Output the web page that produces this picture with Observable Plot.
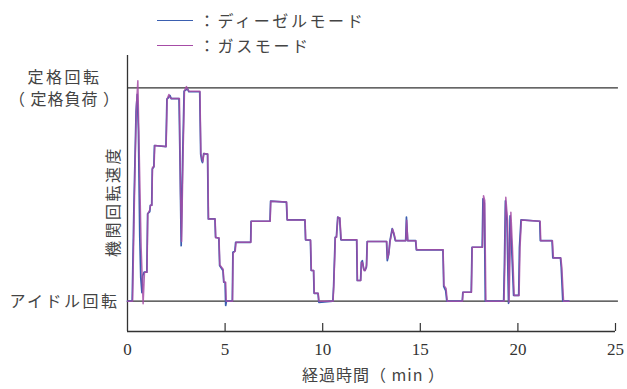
<!DOCTYPE html>
<html><head><meta charset="utf-8">
<script src="https://cdn.jsdelivr.net/npm/d3@7"></script>
<script src="https://cdn.jsdelivr.net/npm/@observablehq/plot@0.6"></script>
<style>
body{margin:0;background:#fff;}
#wrap{position:relative;width:627px;height:389px;}
.leg{position:absolute;left:157px;height:22px;font:16px "Noto Sans CJK JP";color:#444;letter-spacing:2.6px;display:flex;align-items:center;white-space:nowrap;}
.leg .sw{display:inline-block;width:36px;height:0;border-top:1.5px solid;margin-right:6px;}
</style></head><body><div id="wrap"></div>
<script>
// ---- data (engine speed: 0 = idle, 100 = rated) ----
const dieselTime = [0,0.24,0.27,0.33,0.44,0.50,0.56,0.63,0.68,0.74,0.78,0.85,0.99,1.03,1.14,1.17,1.24,1.27,1.35,1.38,1.97,2.02,2.10,2.17,2.24,2.64,2.70,2.75,2.82,2.90,3.02,3.08,3.14,3.70,3.75,3.80,3.84,3.90,4.10,4.14,4.48,4.51,4.68,4.72,4.89,4.93,5.00,5.03,5.07,5.37,5.40,5.50,5.54,6.31,6.33,7.30,7.33,8.14,8.18,9.09,9.12,9.37,9.41,9.53,9.56,9.76,9.80,10.52,10.56,10.64,10.70,10.77,10.87,10.93,11.74,11.77,11.94,11.98,12.03,12.10,12.16,12.24,12.28,13.27,13.31,13.38,13.44,13.56,13.64,13.72,14.25,14.29,14.35,14.76,14.80,16.16,16.20,16.30,16.36,17.15,17.18,17.61,17.65,18.17,18.21,18.28,18.33,19.27,19.31,19.36,19.44,19.52,19.60,19.68,19.78,20.04,20.08,20.16,21.12,21.15,21.75,21.79,22.18,22.22,22.30,22.60];
const dieselSpeed = [0,0,15,45,89,97,80,30,11,4,12,13.6,13.6,41,42,45,45,62,63,73,72.5,94.8,95.5,96.5,95,95,60,26,65,98.5,99.2,99.5,98.2,98.2,69,66,65,69.2,69,38.6,38.6,30,29.5,16.7,14.4,8.9,8.9,-2,0,0,23,23.5,27.6,27.6,37.5,37.5,46.9,46.5,38.1,38.1,28.8,28.6,14.4,14.4,3.7,3.7,-0.5,0,7.4,30,30,39.4,39,28.8,28.8,9.7,9.7,18.3,19,15,14.4,16,28,28,19,22,28,34,31.6,28.4,28.4,39.4,28.4,28.4,24.1,24.1,7,5,0,0,4.2,4.2,25.3,25.3,48,46,0,0,17.5,47,37.8,-1,40,25.3,2.7,2.7,25.3,38.1,37.5,28.4,28.4,20.3,20.3,15.9,0,0];
const gasTime = [0,0.26,0.30,0.38,0.46,0.53,0.60,0.70,0.80,0.83,0.87,1.00,1.04,1.15,1.18,1.25,1.28,1.36,1.40,1.98,2.03,2.12,2.18,2.26,2.66,2.72,2.77,2.85,2.92,3.02,3.07,3.16,3.71,3.76,3.82,3.86,3.92,4.11,4.15,4.49,4.52,4.69,4.73,4.90,4.94,5.03,5.06,5.38,5.41,5.52,5.56,6.32,6.34,7.31,7.34,8.15,8.19,9.10,9.13,9.38,9.42,9.54,9.57,9.77,9.81,10.53,10.57,10.65,10.71,10.78,10.88,10.95,11.75,11.78,11.95,11.99,12.05,12.12,12.18,12.25,12.29,13.28,13.32,13.40,13.45,13.58,13.66,13.74,14.26,14.30,14.36,14.77,14.81,16.17,16.21,16.32,16.38,17.16,17.19,17.62,17.66,18.19,18.24,18.30,18.36,19.29,19.33,19.38,19.47,19.55,19.64,19.72,19.81,20.06,20.11,20.18,21.14,21.17,21.77,21.82,22.20,22.25,22.34,22.62];
const gasSpeed = [0,0,20,60,92,103.4,70,25,-1.2,5,13.6,13.6,41,43,45,45,62.8,63,73,72.5,94.8,96.9,95.5,95,95,50,28,70,98.7,100.6,99.4,98.4,98.4,69.1,67,65.5,69.2,69,38.6,38.6,29.7,29.7,17,15,8.9,8.9,0,0,22.5,23.5,27.6,27.6,37.5,37.5,46.9,46.5,38.1,38.1,28.8,28.6,14.4,14.4,3.7,3.7,0,0,7.4,30,30,39.4,39,28.8,28.8,9.7,9.7,18.3,18,14.4,14.4,17,28,28,20,23,28,33.9,31.6,28.4,28.4,38,28.4,28.4,24.1,24.1,7.4,6,0,0,4.2,4.2,25.3,25.3,49.5,47.2,0,0,17.5,48.7,37.8,-0.5,41.7,25.3,2.7,2.7,25.3,38.1,37.5,28.4,28.4,20.3,20.3,15.9,0,0];

const xTicks = [0,5,10,15,20,25];
const yTicks = [0,100];
const yTickLabels = ["アイドル回転","定格回転\n（ 定格負荷 ）"];
const seriesNames = ["：ディーゼルモード","：ガスモード"];
const seriesColors = ["#3a5fb0","#a64ca6"];
const xTitle = "経過時間（ min ）";
const yTitle = "機関回転速度";

const diesel = dieselTime.map((t,i)=>({t, v: dieselSpeed[i]}));
const gas = gasTime.map((t,i)=>({t, v: gasSpeed[i]}));
const yMin = -14.2, yMax = 115.2;
const axisColor = "#333";
const jp = "Noto Sans CJK JP";

const chart = Plot.plot({
  width: 627, height: 389,
  marginLeft: 127, marginRight: 12, marginTop: 55, marginBottom: 58,
  x: {domain: [0,25]},
  y: {domain: [yMin, yMax]},
  style: {background: "#fff"},
  marks: [
    Plot.ruleY(yTicks, {stroke: axisColor, strokeWidth: 1.2, x1: 0, x2: 25.15}),
    Plot.ruleX([0], {stroke: axisColor, strokeWidth: 1.3}),
    Plot.ruleY([yMin], {stroke: axisColor, strokeWidth: 1.3}),
    Plot.ruleX(xTicks.filter(d => d > 0), {stroke: axisColor, strokeWidth: 1.2, insetTop: 268}),
    Plot.axisX({ticks: xTicks, tickSize: 0, tickPadding: 11, fontSize: 17, fontFamily: "Liberation Serif", label: null, color: "#333", tickFormat: d => String(d)}),
    Plot.axisY({ticks: [], label: null, tickSize: 0}),
    Plot.line(diesel, {x: "t", y: "v", stroke: seriesColors[0], strokeWidth: 1.7}),
    Plot.line(gas, {x: "t", y: "v", stroke: seriesColors[1], strokeWidth: 1.5, strokeOpacity: 0.85}),
    Plot.text(yTicks, {x: 0, y: d => d, text: (d,i) => yTickLabels[i], dx: -63, textAnchor: "middle", fontSize: 16, fontFamily: jp, fill: "#444", lineHeight: 1.4, dy: -1}),
    Plot.text([yTitle], {frameAnchor: "left", textAnchor: "middle", dx: -14, dy: 8, rotate: -90, fontSize: 16, fontFamily: jp, fill: "#444"}),
    Plot.text([xTitle], {frameAnchor: "bottom", dy: 49, dx: 2, fontSize: 16, fontFamily: jp, fill: "#444"})
  ]
});
const wrap = document.getElementById("wrap");
wrap.appendChild(chart);
// wider spacing for the Japanese labels, as in the original typesetting
const spaced = new Set([...yTickLabels.flatMap(s => s.split("\n")), yTitle]);
chart.querySelectorAll("text, tspan").forEach(t => {
  if (spaced.has(t.textContent)) t.style.letterSpacing = t.textContent.includes("（") ? "1px" : "2.5px";
  if (t.textContent === xTitle) t.style.letterSpacing = "1px";
});
seriesNames.forEach((name, i) => {
  const d = document.createElement("div");
  d.className = "leg";
  d.style.top = (9 + i*25) + "px";
  d.innerHTML = `<span class="sw" style="border-color:${seriesColors[i]}"></span><span>${name}</span>`;
  wrap.appendChild(d);
});
</script></body></html>
